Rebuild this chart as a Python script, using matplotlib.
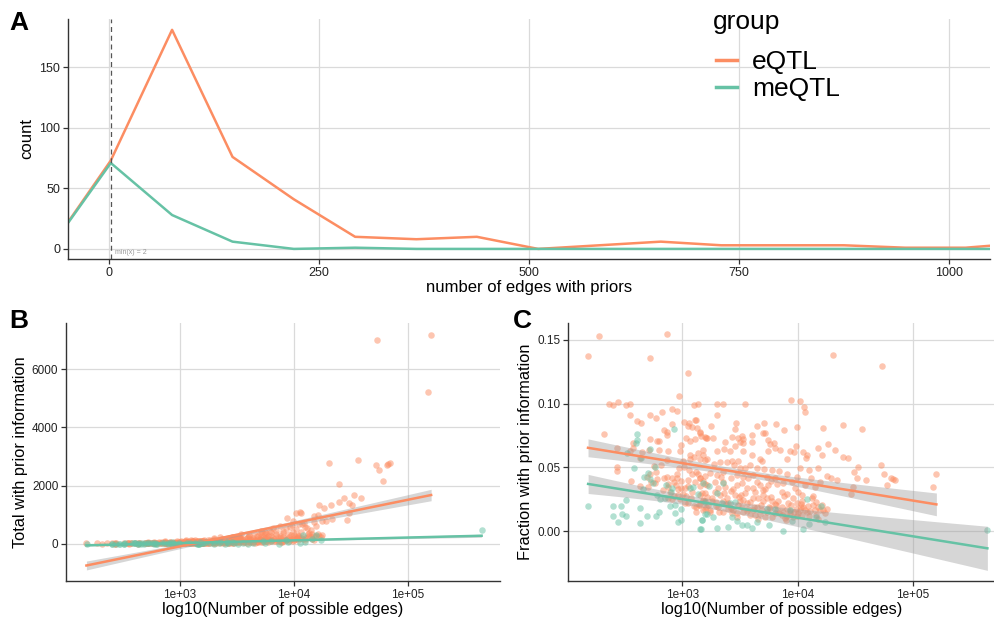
import numpy as np
import matplotlib
matplotlib.use("Agg")
import matplotlib.pyplot as plt
from matplotlib.lines import Line2D

plt.rcParams['font.family'] = ['Liberation Sans', 'DejaVu Sans']

ORANGE = "#FC8D62"
GREEN = "#66C2A5"
GRID = "#dadada"

# frequency polygon (panel A): bin centres and counts per group
bin_centres = [-71, 2, 75, 147, 220, 293, 366, 438, 511, 584, 657, 729, 802, 875, 948, 1020, 1093]
eqtl_counts = [0, 73, 181, 76, 41, 10, 8, 10, 0, 3, 6, 3, 3, 3, 1, 1, 5]
meqtl_counts = [0, 71, 28, 6, 0, 1, 0, 0, 0, 0, 0, 0, 0, 0, 0, 0, 0]
min_edges = 2

# per-gene values: log10(possible edges) and fraction with prior information
eqtl_log_edges = [
    2.279, 2.183, 2.867, 2.720, 3.052, 2.974, 2.363, 2.403, 2.440, 2.510, 2.547,
    3.100, 3.136, 2.545, 2.720, 2.772, 2.820, 2.913, 2.954, 2.605, 2.640,
    3.012, 3.050, 3.055, 3.107, 3.119, 3.081, 3.125, 3.153, 3.165, 3.194,
    2.913, 2.320, 2.844, 2.870, 2.868, 2.720, 2.778, 2.800, 2.437, 2.570, 2.576,
    3.030, 3.067, 3.110, 2.990, 2.714, 2.796, 2.978, 3.208,
    4.305, 3.941, 4.022, 4.051, 4.060, 3.303, 3.355, 3.540, 3.303,
    3.246, 3.454, 3.465, 3.649, 3.710, 3.814, 3.881, 3.993, 4.391, 4.218,
    3.153, 3.216, 3.263, 3.430, 3.517, 3.523, 3.606, 3.699, 3.719,
    3.367, 3.480, 3.500, 3.530, 3.606, 3.745, 3.760, 3.794, 3.982,
    4.172, 4.262, 4.322, 3.182, 3.298, 3.361, 3.413, 3.454, 3.526, 3.800,
    3.846, 3.933, 3.970, 4.048,
    4.732, 4.558,
    2.547, 2.634, 2.651, 2.437, 2.437, 2.873, 2.865, 2.818, 2.752, 2.772,
    2.717, 2.778, 2.761, 2.839, 2.868, 2.876, 2.908, 2.928, 2.957, 2.948,
    2.986, 2.992, 3.006, 3.052, 3.029, 3.064, 3.070, 3.104, 3.133, 3.176,
    3.194, 3.058, 3.084, 3.122, 3.150, 3.194, 3.110, 3.153, 3.194, 2.928,
    2.980, 2.891, 2.911, 3.142, 3.101, 3.122, 3.199, 3.208, 2.631, 2.700,
    2.729, 2.694, 2.559, 2.951, 2.971, 3.018, 3.006,
    3.601, 3.673, 3.745, 3.909, 4.071, 4.085, 4.215, 4.394, 4.435,
    3.153, 3.211, 3.274, 3.326, 3.390, 3.427, 3.448, 3.479, 3.500, 3.543,
    3.586, 3.644, 3.687, 3.710, 3.774, 3.840, 3.909, 4.019, 4.097, 4.114,
    4.178, 4.250, 4.285, 4.337,
    3.153, 3.182, 3.217, 3.283, 3.332, 3.350, 3.370, 3.419, 3.471, 3.514,
    3.572, 3.609, 3.644, 3.673, 3.702, 3.745, 3.765, 3.817, 3.860, 3.976,
    3.904, 4.034,
    3.168, 3.211, 3.254, 3.283, 3.326, 3.384, 3.419, 3.456, 3.505, 3.528,
    3.557, 3.615, 3.658, 3.702, 3.730, 3.774, 3.803, 3.860, 3.909, 3.938,
    3.967, 3.990, 4.025, 4.062, 4.120, 4.163, 4.192, 4.221, 4.236,
    3.153, 3.197, 3.240, 3.312, 3.355, 3.399, 3.442, 3.485, 3.528, 3.615,
    3.629, 3.673, 3.730, 3.774, 3.840, 3.889, 3.932, 4.005, 4.034,
    4.524, 4.487, 4.513, 4.588, 4.718, 4.749, 4.813, 4.842, 4.778, 5.202,
    5.174, 4.481, 4.461, 4.826,
    3.182, 3.225, 3.292, 3.321, 3.378, 3.427, 3.471, 3.514, 3.572, 3.586,
    3.644, 3.687, 3.716, 3.754, 3.803, 3.823, 3.875, 3.909, 3.961, 3.984,
    4.019, 4.048, 4.077, 4.134, 4.149, 4.178, 4.207, 4.250,
    3.240, 3.298, 3.355, 3.471, 3.528, 3.557, 3.615, 3.730, 3.803, 3.875,
    3.947, 3.990, 4.062, 4.149, 4.192,
    2.963, 3.021, 3.078, 3.150, 3.179, 3.049, 2.833, 2.876,
    3.200, 3.260, 3.310, 3.360, 3.400, 3.440, 3.490, 3.540, 3.590, 3.630,
    3.680, 3.720, 3.770, 3.830, 3.880, 3.920, 3.960, 4.000, 4.040, 4.090,
    4.130, 3.020, 3.080, 3.120, 3.240, 3.470, 3.660, 3.900, 4.100, 4.180,
    3.180, 3.290, 3.350, 3.420, 3.500, 3.560, 3.620, 3.700, 3.760, 3.810,
    3.860, 3.930, 3.990, 4.030, 4.110, 4.160, 3.050, 3.140, 2.960, 2.880,
]
eqtl_frac = [
    0.1526, 0.1370, 0.1540, 0.1360, 0.1240, 0.1060, 0.0995, 0.0987, 0.1010, 0.0987, 0.0997,
    0.0990, 0.0995, 0.0910, 0.0910, 0.0890, 0.0930, 0.0960, 0.0940, 0.0860, 0.0850,
    0.0856, 0.0825, 0.0850, 0.0870, 0.0870, 0.0815, 0.0810, 0.0780, 0.0745, 0.0740,
    0.0840, 0.0760, 0.0790, 0.0780, 0.0755, 0.0720, 0.0705, 0.0710, 0.0650, 0.0690, 0.0656,
    0.0730, 0.0710, 0.0720, 0.0677, 0.0635, 0.0633, 0.0630, 0.0730,
    0.1380, 0.1026, 0.1016, 0.0969, 0.0930, 0.0997, 0.0997, 0.0997, 0.0914,
    0.0823, 0.0797, 0.0844, 0.0828, 0.0844, 0.0838, 0.0790, 0.0817, 0.0833, 0.0805,
    0.0768, 0.0729, 0.0734, 0.0742, 0.0750, 0.0719, 0.0752, 0.0768, 0.0768,
    0.0698, 0.0729, 0.0698, 0.0690, 0.0698, 0.0713, 0.0684, 0.0690, 0.0664,
    0.0650, 0.0684, 0.0638, 0.0638, 0.0627, 0.0643, 0.0627, 0.0664, 0.0625, 0.0650,
    0.0635, 0.0630, 0.0622, 0.0622,
    0.1294, 0.0800,
    0.0627, 0.0575, 0.0622, 0.0505, 0.0471, 0.0630, 0.0557, 0.0523, 0.0513, 0.0466,
    0.0450, 0.0411, 0.0375, 0.0414, 0.0424, 0.0351, 0.0414, 0.0383, 0.0414, 0.0364,
    0.0393, 0.0338, 0.0294, 0.0354, 0.0278, 0.0570, 0.0596, 0.0580, 0.0617, 0.0596,
    0.0562, 0.0484, 0.0450, 0.0466, 0.0416, 0.0435, 0.0388, 0.0356, 0.0367, 0.0278,
    0.0257, 0.0310, 0.0250, 0.0205, 0.0200, 0.0148, 0.0237, 0.0192, 0.0356, 0.0349,
    0.0388, 0.0424, 0.0393, 0.0450, 0.0492, 0.0502, 0.0554,
    0.0596, 0.0565, 0.0627, 0.0570, 0.0575, 0.0601, 0.0596, 0.0583, 0.0575,
    0.0570, 0.0565, 0.0531, 0.0539, 0.0544, 0.0549, 0.0518, 0.0549, 0.0492, 0.0492,
    0.0518, 0.0497, 0.0549, 0.0487, 0.0479, 0.0471, 0.0445, 0.0497, 0.0479, 0.0414,
    0.0492, 0.0435, 0.0414, 0.0401,
    0.0414, 0.0393, 0.0362, 0.0388, 0.0427, 0.0388, 0.0349, 0.0414, 0.0362, 0.0375,
    0.0414, 0.0336, 0.0388, 0.0362, 0.0323, 0.0362, 0.0393, 0.0367, 0.0310, 0.0336,
    0.0289, 0.0284,
    0.0297, 0.0271, 0.0237, 0.0310, 0.0284, 0.0258, 0.0315, 0.0284, 0.0284, 0.0245,
    0.0219, 0.0258, 0.0263, 0.0284, 0.0258, 0.0237, 0.0211, 0.0192, 0.0179, 0.0206,
    0.0153, 0.0219, 0.0211, 0.0166, 0.0258, 0.0232, 0.0166, 0.0166, 0.0140,
    0.0206, 0.0179, 0.0153, 0.0192, 0.0153, 0.0179, 0.0166, 0.0206, 0.0153, 0.0166,
    0.0127, 0.0133, 0.0153, 0.0114, 0.0140, 0.0106, 0.0140, 0.0140, 0.0127,
    0.0505, 0.0461, 0.0414, 0.0403, 0.0518, 0.0450, 0.0419, 0.0401, 0.0362, 0.0450,
    0.0349, 0.0349, 0.0289, 0.0410,
    0.0245, 0.0205, 0.0231, 0.0153, 0.0211, 0.0140, 0.0140, 0.0192, 0.0179, 0.0127,
    0.0192, 0.0166, 0.0114, 0.0192, 0.0140, 0.0166, 0.0153, 0.0122, 0.0114, 0.0179,
    0.0166, 0.0192, 0.0153, 0.0205, 0.0166, 0.0192, 0.0205, 0.0179,
    0.0453, 0.0440, 0.0466, 0.0440, 0.0427, 0.0336, 0.0440, 0.0427, 0.0414, 0.0375,
    0.0388, 0.0427, 0.0362, 0.0349, 0.0388,
    0.0284, 0.0336, 0.0258, 0.0284, 0.0167, 0.0219, 0.0323, 0.0258,
    0.0300, 0.0260, 0.0340, 0.0300, 0.0220, 0.0330, 0.0270, 0.0300, 0.0230, 0.0310,
    0.0210, 0.0330, 0.0270, 0.0240, 0.0280, 0.0220, 0.0260, 0.0310, 0.0240, 0.0200,
    0.0280, 0.0220, 0.0310, 0.0190, 0.0170, 0.0110, 0.0100, 0.0090, 0.0120, 0.0100,
    0.0240, 0.0200, 0.0240, 0.0180, 0.0240, 0.0160, 0.0190, 0.0240, 0.0180, 0.0210,
    0.0130, 0.0160, 0.0120, 0.0190, 0.0160, 0.0130, 0.0400, 0.0450, 0.0330, 0.0370,
]

meqtl_log_edges = [
    2.605, 2.608, 2.602, 2.931, 2.720,
    2.184, 2.403, 2.472, 2.510, 2.403, 2.475, 2.510, 2.440, 2.637, 2.691,
    2.772, 2.795, 2.637, 2.896, 2.937, 2.992, 2.940, 2.963, 2.992, 3.159,
    3.171, 3.199, 2.804, 2.784, 2.847, 2.668, 2.723, 2.579, 2.640, 2.518,
    2.767, 2.911, 3.064, 3.090, 3.133,
    3.211, 3.269, 3.168, 3.153, 3.298, 3.399, 3.427, 3.477, 3.514, 3.557,
    3.644, 3.869, 4.077, 4.100, 4.163, 3.234, 3.182, 3.298, 3.355, 3.197,
    3.341, 3.413, 3.456, 3.730, 3.803, 3.932, 4.198, 4.235,
    2.700, 2.750, 2.860, 2.900, 2.660, 3.600, 3.750, 3.950, 4.050,
    5.644,
]
meqtl_frac = [
    0.0765, 0.0716, 0.0695, 0.0799, 0.0643,
    0.0195, 0.0195, 0.0198, 0.0245, 0.0120, 0.0133, 0.0120, 0.0070, 0.0068, 0.0120,
    0.0117, 0.0153, 0.0182, 0.0195, 0.0206, 0.0172, 0.0141, 0.0075, 0.0088, 0.0015,
    0.0086, 0.0133, 0.0250, 0.0284, 0.0258, 0.0427, 0.0409, 0.0497, 0.0575, 0.0617,
    0.0502, 0.0336, 0.0336, 0.0351, 0.0292,
    0.0133, 0.0114, 0.0088, 0.0018, 0.0023, 0.0036, 0.0114, 0.0081, 0.0049, 0.0049,
    0.0075, 0.0002, 0.0253, 0.0055, 0.0114, 0.0356, 0.0382, 0.0297, 0.0375, 0.0232,
    0.0219, 0.0219, 0.0232, 0.0179, 0.0179, 0.0166, 0.0200, 0.0075,
    0.0460, 0.0380, 0.0360, 0.0310, 0.0330, 0.0030, 0.0050, 0.0080, 0.0020,
    0.0011,
]

groups = [
    ("eQTL", ORANGE, eqtl_log_edges, eqtl_frac, eqtl_counts),
    ("meQTL", GREEN, meqtl_log_edges, meqtl_frac, meqtl_counts),
]


def lm_band(lx, y, n=80, t=1.97):
    # straight-line fit of y on log10(x) with 95% confidence band
    lx = np.asarray(lx)
    y = np.asarray(y)
    X = np.column_stack([np.ones_like(lx), lx])
    beta, *_ = np.linalg.lstsq(X, y, rcond=None)
    resid = y - X @ beta
    sigma2 = resid @ resid / (len(y) - 2)
    cov = sigma2 * np.linalg.inv(X.T @ X)
    gx = np.linspace(lx.min(), lx.max(), n)
    G = np.column_stack([np.ones_like(gx), gx])
    fit = G @ beta
    se = np.sqrt(np.einsum("ij,jk,ik->i", G, cov, G))
    return 10 ** gx, fit, fit - t * se, fit + t * se


def style(ax, size=8.5):
    ax.set_facecolor("white")
    ax.grid(True, color=GRID, lw=0.9)
    ax.set_axisbelow(True)
    for s in ("top", "right"):
        ax.spines[s].set_visible(False)
    for s in ("left", "bottom"):
        ax.spines[s].set_color("#333333")
        ax.spines[s].set_linewidth(1.0)
    ax.tick_params(length=3.5, width=0.9, color="#333333", labelsize=size,
                   labelcolor="#222222", pad=2)


fig = plt.figure(figsize=(9.95, 6.21), dpi=100)

# panel A: frequency polygon
axA = fig.add_axes([0.0683, 0.583, 0.9266, 0.3865])
style(axA, 9)
for name, col, _, _, counts in groups:
    axA.plot(bin_centres, counts, color=col, lw=1.8, solid_joinstyle="round")
axA.axvline(min_edges, color="#555555", lw=0.9, ls=(0, (4, 3)))
axA.text(min_edges + 5, -3.3, f"min(x) = {min_edges}", fontsize=5, color="#999999",
         ha="left", va="center")
axA.set_xlim(-49, 1049)
axA.set_ylim(-8.3, 190)
axA.set_xticks([0, 250, 500, 750, 1000])
axA.set_yticks([0, 50, 100, 150])
axA.set_xlabel("number of edges with priors", fontsize=12, labelpad=1)
axA.set_ylabel("count", fontsize=12, labelpad=4)

# legend: title placed on its own so it sits a little above the entries
fig.text(0.7166, 1 - 22 / 621, "group", fontsize=19, ha="left", va="center")
handles = [Line2D([], [], color=c, lw=2.5) for _, c, _, _, _ in groups]
fig.legend(handles, [g[0] for g in groups], loc="upper left",
           bbox_to_anchor=(0.7196, 1 - 50 / 621), frameon=False, fontsize=19,
           handlelength=0.8, handletextpad=0.57, labelspacing=0.12,
           borderpad=0, borderaxespad=0)

# panels B and C: totals and fractions against possible edges
axB = fig.add_axes([0.0663, 0.0644, 0.4362, 0.4155])
axC = fig.add_axes([0.5709, 0.0644, 0.4291, 0.4155])
for ax in (axB, axC):
    style(ax)
    ax.set_xscale("log")
    ax.minorticks_off()

for name, col, lx, frac, _ in groups:
    edges = 10 ** np.asarray(lx)
    frac = np.asarray(frac)
    total = frac * edges
    for ax, yv in ((axB, total), (axC, frac)):
        ax.scatter(edges, yv, s=22, color=col, alpha=0.5, linewidths=0, zorder=2)
        gx, fit, lo, hi = lm_band(lx, yv)
        ax.fill_between(gx, lo, hi, color="#999999", alpha=0.4, lw=0, zorder=3)
        ax.plot(gx, fit, color=col, lw=1.8, zorder=4)

xt = [1e3, 1e4, 1e5]
xtl = ["1e+03", "1e+04", "1e+05"]
axB.set_xlim(10 ** 2.004, 10 ** 5.805)
axB.set_ylim(-1270, 7580)
axB.set_yticks([0, 2000, 4000, 6000])
axC.set_xlim(10 ** 2.01, 10 ** 5.71)
axC.set_ylim(-0.0388, 0.163)
axC.set_yticks([0.0, 0.05, 0.10, 0.15])
axC.set_yticklabels(["0.00", "0.05", "0.10", "0.15"])
for ax in (axB, axC):
    ax.set_xticks(xt)
    ax.set_xticklabels(xtl)
    ax.set_xlabel("log10(Number of possible edges)", fontsize=11.8, labelpad=1)
axB.set_ylabel("Total with prior information", fontsize=11.8, labelpad=3)
axC.set_ylabel("Fraction with prior information", fontsize=11.8, labelpad=3)

for lab, x, y in (("A", 0.009, 0.983), ("B", 0.009, 0.502), ("C", 0.515, 0.502)):
    fig.text(x, y, lab, fontsize=19, fontweight="bold", ha="left", va="top")

fig.savefig("out.png", dpi=100, facecolor="white")
